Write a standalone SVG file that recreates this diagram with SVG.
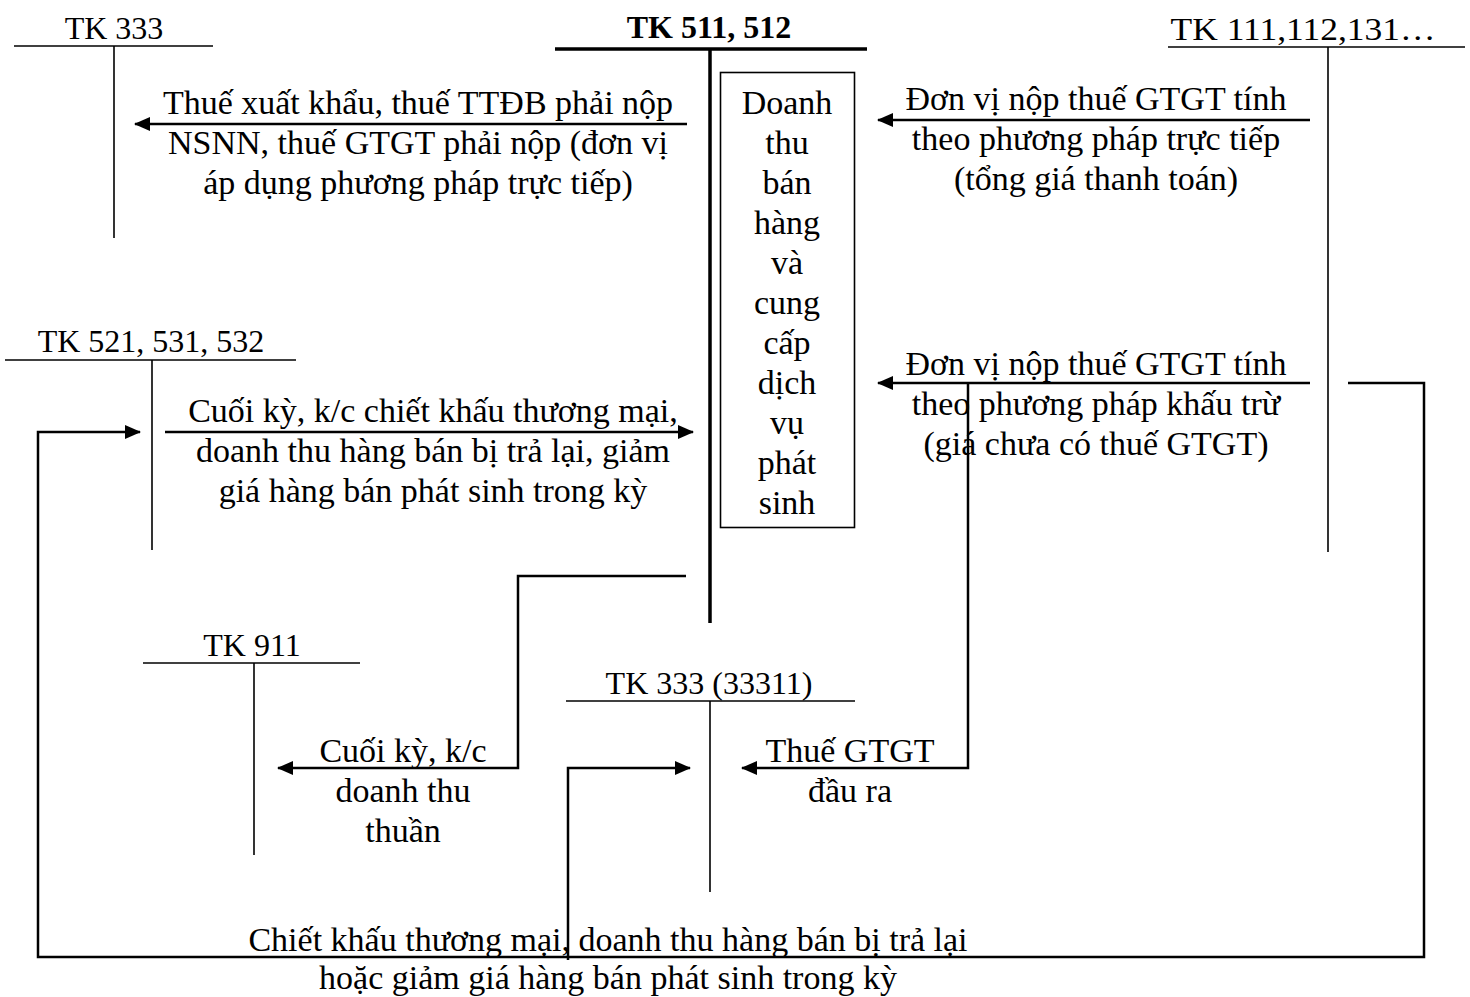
<svg xmlns="http://www.w3.org/2000/svg" width="1470" height="997" viewBox="0 0 1470 997">
<style>
text{font-family:"Liberation Serif","Times New Roman",serif;fill:#000;text-anchor:middle}
.t{font-size:34px}
.h{font-size:32px}
.b{font-size:32px;font-weight:bold}
.ln{stroke:#000;stroke-width:1.6;fill:none}
.thk{stroke:#000;stroke-width:3.5;fill:none}
.c{stroke:#000;stroke-width:2.5;fill:none}
</style>
<defs>
<marker id="ah" markerUnits="userSpaceOnUse" markerWidth="16" markerHeight="14" refX="15" refY="7" orient="auto">
<path d="M0,0 L16,7 L0,14 Z" fill="#000"/>
</marker>
</defs>
<rect width="1470" height="997" fill="#fff"/>
<g id="tk333">
<text class="h" x="114" y="39">TK 333</text>
<line class="ln" x1="14" y1="46" x2="213" y2="46"/>
<line class="ln" x1="114" y1="46" x2="114" y2="238"/>
</g>
<g id="tk511">
<text class="b" x="709" y="38">TK 511, 512</text>
<line class="thk" x1="555" y1="49" x2="867" y2="49"/>
<line class="thk" x1="710" y1="49" x2="710" y2="623"/>
<rect x="720.5" y="72.5" width="134" height="455" fill="none" stroke="#000" stroke-width="1.6"/>
<text class="t" x="787"><tspan x="787" y="114">Doanh</tspan><tspan x="787" y="154">thu</tspan><tspan x="787" y="194">bán</tspan><tspan x="787" y="234">hàng</tspan><tspan x="787" y="274">và</tspan><tspan x="787" y="314">cung</tspan><tspan x="787" y="354">cấp</tspan><tspan x="787" y="394">dịch</tspan><tspan x="787" y="434">vụ</tspan><tspan x="787" y="474">phát</tspan><tspan x="787" y="514">sinh</tspan></text>
</g>
<g id="tk111">
<text class="h" x="1303" y="40" textLength="265" lengthAdjust="spacingAndGlyphs">TK 111,112,131…</text>
<line class="ln" x1="1168" y1="47" x2="1465" y2="47"/>
<line class="ln" x1="1328" y1="47" x2="1328" y2="552"/>
</g>
<g id="tk521">
<text class="h" x="151" y="352">TK 521, 531, 532</text>
<line class="ln" x1="5" y1="360" x2="296" y2="360"/>
<line class="ln" x1="152" y1="360" x2="152" y2="550"/>
</g>
<g id="tk911">
<text class="h" x="252" y="656">TK 911</text>
<line class="ln" x1="143" y1="663" x2="360" y2="663"/>
<line class="ln" x1="254" y1="663" x2="254" y2="855"/>
</g>
<g id="tk33311">
<text class="h" x="709" y="694">TK 333 (33311)</text>
<line class="ln" x1="566" y1="701" x2="855" y2="701"/>
<line class="ln" x1="710" y1="701" x2="710" y2="892"/>
</g>
<g id="connectors">
<line class="c" x1="687" y1="124" x2="135" y2="124" marker-end="url(#ah)"/>
<line class="c" x1="1310" y1="120" x2="878" y2="120" marker-end="url(#ah)"/>
<line class="c" x1="165" y1="432" x2="693" y2="432" marker-end="url(#ah)"/>
<line class="c" x1="1310" y1="383" x2="878" y2="383" marker-end="url(#ah)"/>
<polyline class="c" points="1348,383 1424,383 1424,957 38,957 38,432 140,432" marker-end="url(#ah)"/>
<polyline class="c" points="968,383 968,768 742,768" marker-end="url(#ah)"/>
<polyline class="c" points="686,576 518,576 518,768 278,768" marker-end="url(#ah)"/>
<polyline class="c" points="568,960 568,768 690,768" marker-end="url(#ah)"/>
</g>
<g id="labels">
<text class="t"><tspan x="418" y="114">Thuế xuất khẩu, thuế TTĐB phải nộp</tspan><tspan x="418" y="154">NSNN, thuế GTGT phải nộp (đơn vị</tspan><tspan x="418" y="194">áp dụng phương pháp trực tiếp)</tspan></text>
<text class="t"><tspan x="1096" y="110">Đơn vị nộp thuế GTGT tính</tspan><tspan x="1096" y="150">theo phương pháp trực tiếp</tspan><tspan x="1096" y="190">(tổng giá thanh toán)</tspan></text>
<text class="t"><tspan x="433" y="422">Cuối kỳ, k/c chiết khấu thương mại,</tspan><tspan x="433" y="462">doanh thu hàng bán bị trả lại, giảm</tspan><tspan x="433" y="502">giá hàng bán phát sinh trong kỳ</tspan></text>
<text class="t"><tspan x="1096" y="375">Đơn vị nộp thuế GTGT tính</tspan><tspan x="1096" y="415">theo phương pháp khấu trừ</tspan><tspan x="1096" y="455">(giá chưa có thuế GTGT)</tspan></text>
<text class="t"><tspan x="850" y="762">Thuế GTGT</tspan><tspan x="850" y="802">đầu ra</tspan></text>
<text class="t"><tspan x="403" y="762">Cuối kỳ, k/c</tspan><tspan x="403" y="802">doanh thu</tspan><tspan x="403" y="842">thuần</tspan></text>
<text class="t"><tspan x="608" y="951">Chiết khấu thương mại, doanh thu hàng bán bị trả lại</tspan><tspan x="608" y="989">hoặc giảm giá hàng bán phát sinh trong kỳ</tspan></text>
</g>
</svg>
